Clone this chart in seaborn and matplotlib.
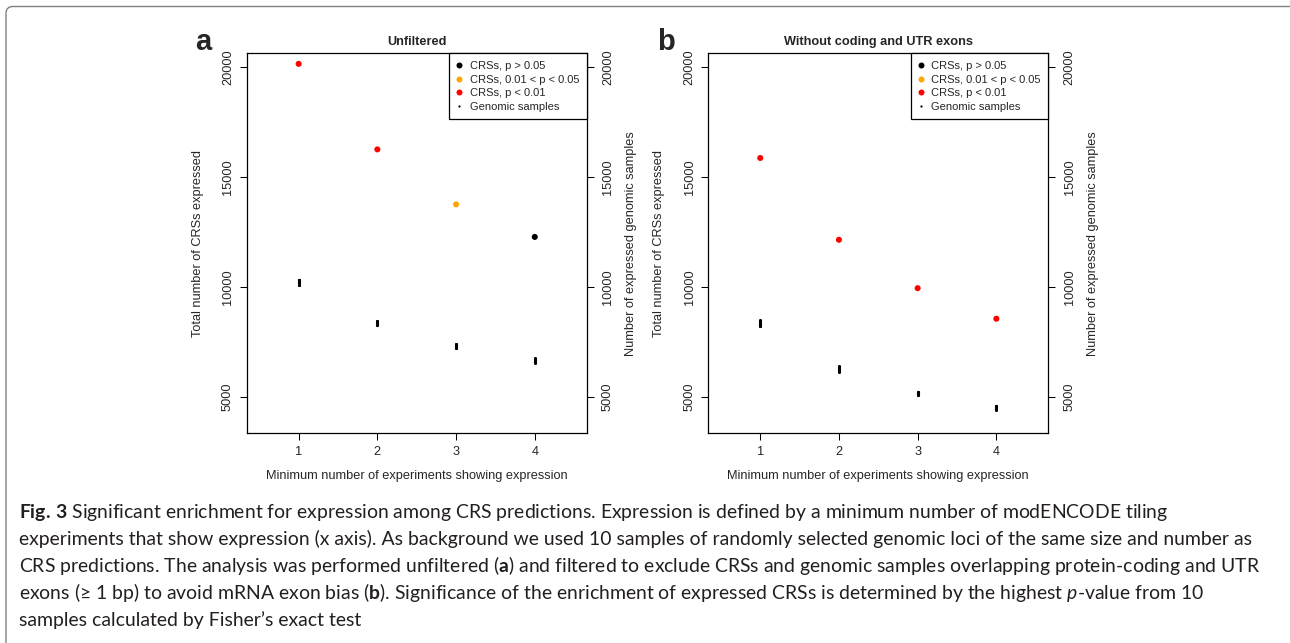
import numpy as np
import pandas as pd
import matplotlib
matplotlib.use("Agg")
import matplotlib.pyplot as plt
import seaborn as sns
from matplotlib.lines import Line2D
from matplotlib.patches import FancyBboxPatch
from matplotlib.transforms import IdentityTransform

# ---------------- data ----------------
min_experiments = [1, 2, 3, 4]

crs_unfiltered = [20160, 16270, 13770, 12290]
crs_unfiltered_sig = ["p < 0.01", "p < 0.01", "0.01 < p < 0.05", "p > 0.05"]
crs_filtered = [15880, 12160, 9960, 8570]
crs_filtered_sig = ["p < 0.01", "p < 0.01", "p < 0.01", "p < 0.01"]

# 10 genomic samples per threshold (unfiltered)
gen_unf_1 = [10350, 10330, 10310, 10290, 10270, 10250, 10220, 10180, 10120, 10090]
gen_unf_2 = [8470, 8450, 8430, 8410, 8390, 8370, 8350, 8330, 8300, 8280]
gen_unf_3 = [7440, 7420, 7390, 7370, 7350, 7330, 7300, 7280, 7250, 7220]
gen_unf_4 = [6770, 6740, 6720, 6700, 6680, 6660, 6630, 6600, 6580, 6560]
# 10 genomic samples per threshold (without coding and UTR exons)
gen_fil_1 = [8500, 8470, 8440, 8410, 8380, 8350, 8320, 8290, 8250, 8220]
gen_fil_2 = [6410, 6380, 6350, 6320, 6300, 6280, 6250, 6220, 6190, 6160]
gen_fil_3 = [5260, 5240, 5220, 5200, 5190, 5170, 5150, 5130, 5110, 5100]
gen_fil_4 = [4620, 4600, 4580, 4560, 4540, 4520, 4500, 4480, 4460, 4440]

y_ticks = [5000, 10000, 15000, 20000]
legend_labels = ["CRSs, p > 0.05", "CRSs, 0.01 < p < 0.05", "CRSs, p < 0.01", "Genomic samples"]
sig_levels = ["p > 0.05", "0.01 < p < 0.05", "p < 0.01"]
sig_colors = ["#000000", "#FFA500", "#FF0000"]

caption_lines = [
    r"$\mathbf{Fig.\,3}$ Significant enrichment for expression among CRS predictions. Expression is defined by a minimum number of modENCODE tiling",
    "experiments that show expression (x axis). As background we used 10 samples of randomly selected genomic loci of the same size and number as",
    r"CRS predictions. The analysis was performed unfiltered ($\mathbf{a}$) and filtered to exclude CRSs and genomic samples overlapping protein-coding and UTR",
    "exons (\u2265 1 bp) to avoid mRNA exon bias ($\\mathbf{b}$). Significance of the enrichment of expressed CRSs is determined by the highest $\\mathit{p}$-value from 10",
    "samples calculated by Fisher\u2019s exact test",
]

# ---------------- style ----------------
sns.set_style("white")
plt.rcParams["font.family"] = ["Liberation Sans", "DejaVu Sans"]
plt.rcParams["mathtext.fontset"] = "custom"
plt.rcParams["mathtext.rm"] = "Lato"
plt.rcParams["mathtext.bf"] = "Lato:bold"
plt.rcParams["mathtext.it"] = "Lato:italic"

W, H = 1290, 643
fig = plt.figure(figsize=(W / 100, H / 100), dpi=100)
fig.patch.set_facecolor("white")


def build_frames(crs, sig, gens):
    df_crs = pd.DataFrame({"x": min_experiments, "y": crs, "sig": sig})
    xs, ys = [], []
    for xv, g in zip(min_experiments, gens):
        xs += [xv] * len(g)
        ys += list(g)
    df_gen = pd.DataFrame({"x": xs, "y": ys})
    return df_crs, df_gen


panels = [
    ("a", "Unfiltered", 246.7, crs_unfiltered, crs_unfiltered_sig,
     [gen_unf_1, gen_unf_2, gen_unf_3, gen_unf_4]),
    ("b", "Without coding and UTR exons", 708.3, crs_filtered, crs_filtered_sig,
     [gen_fil_1, gen_fil_2, gen_fil_3, gen_fil_4]),
]

ax_w, ax_top, ax_bot = 340.0, 53.3, 433.3
palette = dict(zip(sig_levels, sig_colors))

for letter, title, left, crs, sig, gens in panels:
    ax = fig.add_axes([left / W, (H - ax_bot) / H, ax_w / W, (ax_bot - ax_top) / H])
    df_crs, df_gen = build_frames(crs, sig, gens)
    sns.scatterplot(data=df_gen, x="x", y="y", color="black", marker="o", s=5,
                    linewidth=0, legend=False, ax=ax, zorder=3)
    sns.scatterplot(data=df_crs, x="x", y="y", hue="sig", palette=palette, s=19,
                    linewidth=0, legend=False, ax=ax, zorder=4)
    ax.set_xlim(0.34, 4.66)
    ax.set_ylim(3360, 20640)
    ax.set_xticks(min_experiments)
    ax.set_xticklabels([str(v) for v in min_experiments], fontsize=9.2)
    ax.set_yticks(y_ticks)
    ax.set_yticklabels([str(v) for v in y_ticks], fontsize=9.2, rotation=90, va="center")
    ax.tick_params(axis="both", direction="out", length=5, width=0.75, color="black",
                   bottom=True, left=True, pad=4.2)
    for sp in ax.spines.values():
        sp.set_visible(True)
        sp.set_color("black")
        sp.set_linewidth(0.9)
    ax.set_xlabel("Minimum number of experiments showing expression", fontsize=9.2)
    ax.set_ylabel("Total number of CRSs expressed", fontsize=9.2)
    ax.xaxis.set_label_coords(0.5, -0.097)
    ax.yaxis.set_label_coords(-0.126, 0.5)
    ax.set_title(title, fontsize=9.2, fontweight="bold", pad=6.3)

    ax2 = ax.twinx()
    ax2.set_ylim(ax.get_ylim())
    ax2.set_yticks(y_ticks)
    ax2.set_yticklabels([str(v) for v in y_ticks], fontsize=9.2, rotation=90, va="center")
    ax2.tick_params(axis="y", direction="out", length=5, width=0.75, color="black",
                    right=True, pad=6.0)
    ax2.set_ylabel("Number of expressed genomic samples", fontsize=9.2)
    ax2.yaxis.set_label_coords(1.113, 0.5)
    for sp in ax2.spines.values():
        sp.set_visible(False)

    handles = [Line2D([], [], ls="", marker="o", markersize=4.3, markeredgewidth=0,
                      color=c) for c in sig_colors]
    handles.append(Line2D([], [], ls="", marker="o", markersize=1.6, markeredgewidth=0,
                          color="black"))
    leg = ax2.legend(handles, legend_labels, loc="upper right", fontsize=8.0,
                     frameon=True, fancybox=False, framealpha=1, edgecolor="black",
                     borderaxespad=0, borderpad=0.68, labelspacing=0.33,
                     handlelength=0.45, handletextpad=0.7)
    leg.get_frame().set_linewidth(0.9)

    fig.text((left - 51.5) / W, 1 - 50 / H, letter, fontsize=21, fontweight="bold",
             ha="left", va="baseline")

# ---------------- caption ----------------
baselines = [518, 545, 572, 599, 626]
cap_texts = []
for line, b in zip(caption_lines, baselines):
    t = fig.text(19 / W, 1 - b / H, line, fontsize=16, ha="left", va="baseline",
                 color="#231f20", family=["Lato", "DejaVu Sans"])
    cap_texts.append(t)

renderer = fig.canvas.get_renderer()
w3 = cap_texts[2].get_window_extent(renderer).width
fs = 16 * 1244.0 / w3
for t in cap_texts:
    t.set_fontsize(fs)

# outer frame (rounded top-left corner)
frame = FancyBboxPatch((6, -20), W + 20, H - 6 + 20 - 0.5,
                       boxstyle="round,pad=0,rounding_size=7",
                       transform=IdentityTransform(), facecolor="none",
                       edgecolor="#808080", linewidth=1.0)
fig.patches.append(frame)

fig.savefig("out.png", dpi=100)
